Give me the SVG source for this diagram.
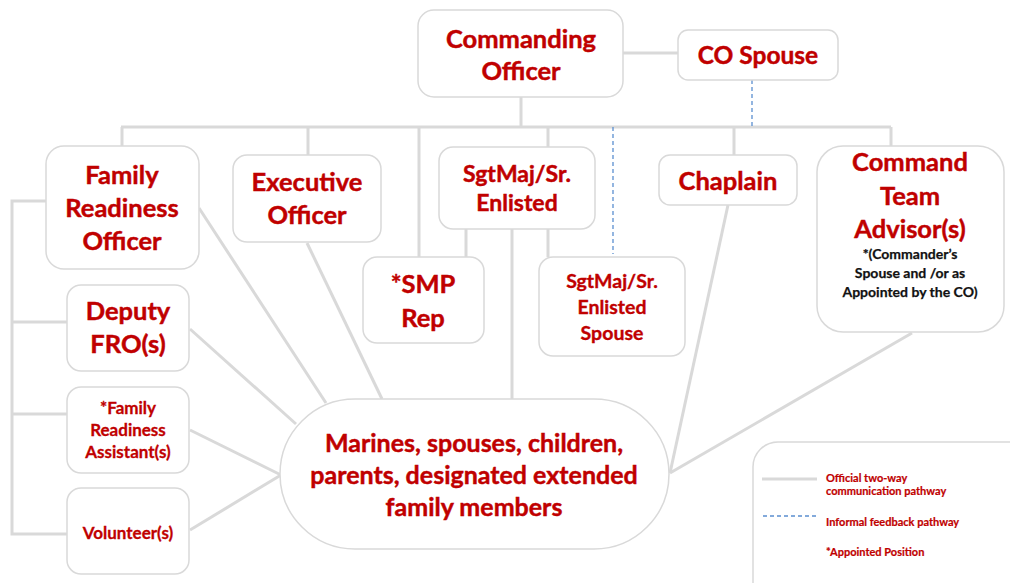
<svg xmlns="http://www.w3.org/2000/svg" width="1010" height="583" viewBox="0 0 1010 583">
<style>
.box{fill:#fff;stroke:#d9d9d9;stroke-width:1.5}
.ln{stroke:#d9d9d9;stroke-width:3;fill:none}
.dash{stroke:#5b8fd0;stroke-width:1.3;stroke-dasharray:4 3;fill:none}
text{font-family:Lato,"Liberation Sans",sans-serif;font-weight:bold;fill:#c00000;text-anchor:middle;stroke:#c00000;stroke-width:0.45}
.t24{font-size:25.5px}
.t17{font-size:17px;stroke-width:0.3}
.blk{fill:#111;stroke:#111;stroke-width:0.25;font-size:14px}
.lg{font-size:11px;text-anchor:start;stroke-width:0.2}
</style>
<rect width="1010" height="583" fill="#fff"/>
<g id="connectors">
<line class="ln" x1="623" y1="53" x2="678" y2="53"/>
<line class="ln" x1="521" y1="97" x2="521" y2="127"/>
<line class="ln" x1="121" y1="127" x2="891" y2="127"/>
<line class="ln" x1="122" y1="127" x2="122" y2="146"/>
<line class="ln" x1="308" y1="127" x2="308" y2="155"/>
<line class="ln" x1="419" y1="127" x2="419" y2="257"/>
<line class="ln" x1="548" y1="127" x2="548" y2="147"/>
<line class="ln" x1="734" y1="127" x2="734" y2="155"/>
<line class="ln" x1="891" y1="127" x2="891" y2="146"/>
<line class="ln" x1="466" y1="229" x2="466" y2="257"/>
<line class="ln" x1="548" y1="229" x2="548" y2="257"/>
<line class="ln" x1="512" y1="229" x2="512" y2="400"/>
<polyline class="ln" points="46,201 12,201 12,534 67,534"/>
<line class="ln" x1="12" y1="322" x2="67" y2="322"/>
<line class="ln" x1="12" y1="414" x2="67" y2="414"/>
<line class="ln" x1="199" y1="208" x2="326" y2="403"/>
<line class="ln" x1="307" y1="243" x2="382" y2="399"/>
<line class="ln" x1="190" y1="329" x2="296" y2="424"/>
<line class="ln" x1="190" y1="430" x2="281" y2="475"/>
<line class="ln" x1="190" y1="530" x2="281" y2="475"/>
<line class="ln" x1="728" y1="205" x2="670" y2="473"/>
<line class="ln" x1="912" y1="333" x2="670" y2="473"/>
<line class="dash" x1="752" y1="80" x2="752" y2="127"/>
<line class="dash" x1="613" y1="127" x2="613" y2="254"/>
</g>
<g id="co"><rect class="box" x="418" y="10" width="205" height="87" rx="16"/><text class="t24" x="521" y="48">Commanding</text><text class="t24" x="521" y="80">Officer</text></g>
<g id="co-spouse"><rect class="box" x="678" y="30" width="160" height="50" rx="10"/><text class="t24" x="758" y="64" style="font-size:24.5px">CO Spouse</text></g>
<g id="fro"><rect class="box" x="46" y="146" width="153" height="123" rx="18"/><text class="t24" x="122" y="184">Family</text><text class="t24" x="122" y="217">Readiness</text><text class="t24" x="122" y="250">Officer</text></g>
<g id="xo"><rect class="box" x="233" y="155" width="148" height="87" rx="14"/><text class="t24" x="307" y="191">Executive</text><text class="t24" x="307" y="224">Officer</text></g>
<g id="sgtmaj"><rect class="box" x="439" y="147" width="156" height="82" rx="14"/><text class="t24" x="517" y="182" style="font-size:23px">SgtMaj/Sr.</text><text class="t24" x="517" y="211" style="font-size:23px">Enlisted</text></g>
<g id="smp"><rect class="box" x="363" y="257" width="121" height="86" rx="14"/><text class="t24" x="423" y="293">*SMP</text><text class="t24" x="423" y="327">Rep</text></g>
<g id="sgtmaj-spouse"><rect class="box" x="539" y="257" width="146" height="99" rx="14"/><text x="612" y="288" style="font-size:19.5px;stroke-width:0.35">SgtMaj/Sr.</text><text x="612" y="314" style="font-size:19.5px;stroke-width:0.35">Enlisted</text><text x="612" y="340" style="font-size:19.5px;stroke-width:0.35">Spouse</text></g>
<g id="chaplain"><rect class="box" x="659" y="155" width="138" height="50" rx="11"/><text class="t24" x="728" y="190">Chaplain</text></g>
<g id="cta"><rect class="box" x="817" y="146" width="187" height="186" rx="26"/><text class="t24" x="910" y="171">Command</text><text class="t24" x="910" y="205">Team</text><text class="t24" x="910" y="238">Advisor(s)</text><text class="blk" x="910" y="259">*(Commander’s</text><text class="blk" x="910" y="278">Spouse and /or as</text><text class="blk" x="910" y="297">Appointed by the CO)</text></g>
<g id="dfro"><rect class="box" x="67" y="285" width="122" height="86" rx="14"/><text class="t24" x="128" y="320">Deputy</text><text class="t24" x="128" y="353">FRO(s)</text></g>
<g id="fra"><rect class="box" x="67" y="387" width="122" height="86" rx="14"/><text class="t17" x="128" y="414">*Family</text><text class="t17" x="128" y="436">Readiness</text><text class="t17" x="128" y="458">Assistant(s)</text></g>
<g id="volunteer"><rect class="box" x="67" y="488" width="122" height="86" rx="14"/><text class="t17" x="128" y="539">Volunteer(s)</text></g>
<g id="families"><rect class="box" x="280" y="399" width="389" height="150" rx="75"/><text class="t24" x="474" y="452" style="font-size:25px">Marines, spouses, children,</text><text class="t24" x="474" y="484" style="font-size:25px">parents, designated extended</text><text class="t24" x="474" y="516" style="font-size:25px">family members</text></g>
<g id="legend"><rect class="box" x="753" y="442" width="290" height="170" rx="25"/>
<line class="ln" x1="762" y1="479" x2="817" y2="479"/>
<line class="dash" x1="763" y1="516" x2="817" y2="516"/>
<text class="lg" x="826" y="482">Official two-way</text><text class="lg" x="826" y="495">communication pathway</text><text class="lg" x="826" y="526">Informal feedback pathway</text><text class="lg" x="826" y="556">*Appointed Position</text></g>
</svg>
